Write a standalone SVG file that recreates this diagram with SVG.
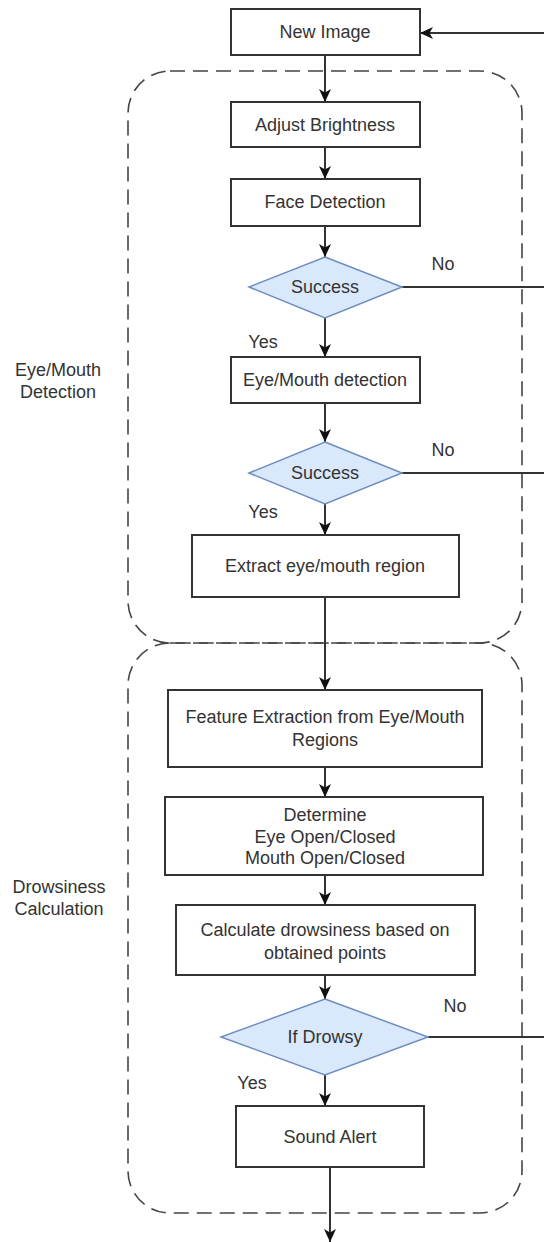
<svg xmlns="http://www.w3.org/2000/svg" width="544" height="1242" viewBox="0 0 544 1242">
<defs>
<style>
.box{fill:#ffffff;stroke:#333333;stroke-width:2}
.dia{fill:#dae8fc;stroke:#6c8ebf;stroke-width:1.5}
.grp{fill:none;stroke:#444444;stroke-width:1.6;stroke-dasharray:15 8}
.t{font-family:"Liberation Sans",Arial,sans-serif;font-size:18px;fill:#333333;text-anchor:middle;dominant-baseline:central}
.c{fill:none;stroke:#333333;stroke-width:2}
</style>
<marker id="ah" markerUnits="userSpaceOnUse" markerWidth="14" markerHeight="14" viewBox="0 0 14 14" refX="13" refY="7" orient="auto">
<path d="M0,1 L13,7 L0,13 L3.5,7 Z" fill="#111111"/>
</marker>
</defs>
<rect width="544" height="1242" fill="#ffffff"/>

<g id="group-eye-mouth">
<rect class="grp" x="128" y="71" width="394" height="572" rx="42" ry="42"/>
<text class="t" x="58" y="370">Eye/Mouth</text>
<text class="t" x="58" y="392">Detection</text>
</g>
<g id="group-drowsiness">
<rect class="grp" x="128" y="643" width="394" height="570" rx="42" ry="42"/>
<text class="t" x="59" y="887">Drowsiness</text>
<text class="t" x="59" y="909">Calculation</text>
</g>

<g id="connectors">
<line class="c" x1="544" y1="33" x2="420" y2="33" marker-end="url(#ah)"/>
<line class="c" x1="325" y1="55" x2="325" y2="102" marker-end="url(#ah)"/>
<line class="c" x1="325" y1="147" x2="325" y2="179" marker-end="url(#ah)"/>
<line class="c" x1="325" y1="226" x2="325" y2="257" marker-end="url(#ah)"/>
<line class="c" x1="325" y1="318" x2="325" y2="357" marker-end="url(#ah)"/>
<line class="c" x1="325" y1="403" x2="325" y2="442" marker-end="url(#ah)"/>
<line class="c" x1="325" y1="504" x2="325" y2="535" marker-end="url(#ah)"/>
<line class="c" x1="325" y1="597" x2="325" y2="690" marker-end="url(#ah)"/>
<line class="c" x1="325" y1="767" x2="325" y2="797" marker-end="url(#ah)"/>
<line class="c" x1="325" y1="875" x2="325" y2="905" marker-end="url(#ah)"/>
<line class="c" x1="325" y1="975" x2="325" y2="999" marker-end="url(#ah)"/>
<line class="c" x1="325" y1="1075" x2="325" y2="1106" marker-end="url(#ah)"/>
<line class="c" x1="330" y1="1167" x2="330" y2="1242" marker-end="url(#ah)"/>
<line class="c" x1="402" y1="287" x2="544" y2="287"/>
<line class="c" x1="402" y1="473" x2="544" y2="473"/>
<line class="c" x1="428" y1="1037" x2="544" y2="1037"/>
<text class="t" x="443" y="264">No</text>
<text class="t" x="263" y="342">Yes</text>
<text class="t" x="443" y="450">No</text>
<text class="t" x="263" y="512">Yes</text>
<text class="t" x="455" y="1006">No</text>
<text class="t" x="252" y="1083">Yes</text>
</g>

<g id="new-image">
<rect class="box" x="231" y="9" width="189" height="46"/>
<text class="t" x="325" y="32">New Image</text>
</g>
<g id="adjust-brightness">
<rect class="box" x="231" y="102" width="189" height="45"/>
<text class="t" x="325" y="125">Adjust Brightness</text>
</g>
<g id="face-detection">
<rect class="box" x="231" y="179" width="189" height="47"/>
<text class="t" x="325" y="202">Face Detection</text>
</g>
<g id="success-1">
<polygon class="dia" points="325,257 402,287 325,318 249,287"/>
<text class="t" x="325" y="287">Success</text>
</g>
<g id="eye-mouth-detection">
<rect class="box" x="231" y="357" width="189" height="46"/>
<text class="t" x="325" y="380">Eye/Mouth detection</text>
</g>
<g id="success-2">
<polygon class="dia" points="325,442 402,473 325,504 249,473"/>
<text class="t" x="325" y="473">Success</text>
</g>
<g id="extract-region">
<rect class="box" x="192" y="535" width="267" height="62"/>
<text class="t" x="325" y="566">Extract eye/mouth region</text>
</g>
<g id="feature-extraction">
<rect class="box" x="168" y="690" width="314" height="77"/>
<text class="t" x="325" y="717">Feature Extraction from Eye/Mouth</text>
<text class="t" x="325" y="740">Regions</text>
</g>
<g id="determine">
<rect class="box" x="165" y="797" width="318" height="78"/>
<text class="t" x="325" y="815">Determine</text>
<text class="t" x="325" y="837">Eye Open/Closed</text>
<text class="t" x="325" y="858">Mouth Open/Closed</text>
</g>
<g id="calculate">
<rect class="box" x="176" y="905" width="299" height="70"/>
<text class="t" x="325" y="930">Calculate drowsiness based on</text>
<text class="t" x="325" y="953">obtained points</text>
</g>
<g id="if-drowsy">
<polygon class="dia" points="325,999 428,1037 325,1075 221,1037"/>
<text class="t" x="325" y="1037">If Drowsy</text>
</g>
<g id="sound-alert">
<rect class="box" x="236" y="1106" width="188" height="61"/>
<text class="t" x="330" y="1137">Sound Alert</text>
</g>
</svg>
